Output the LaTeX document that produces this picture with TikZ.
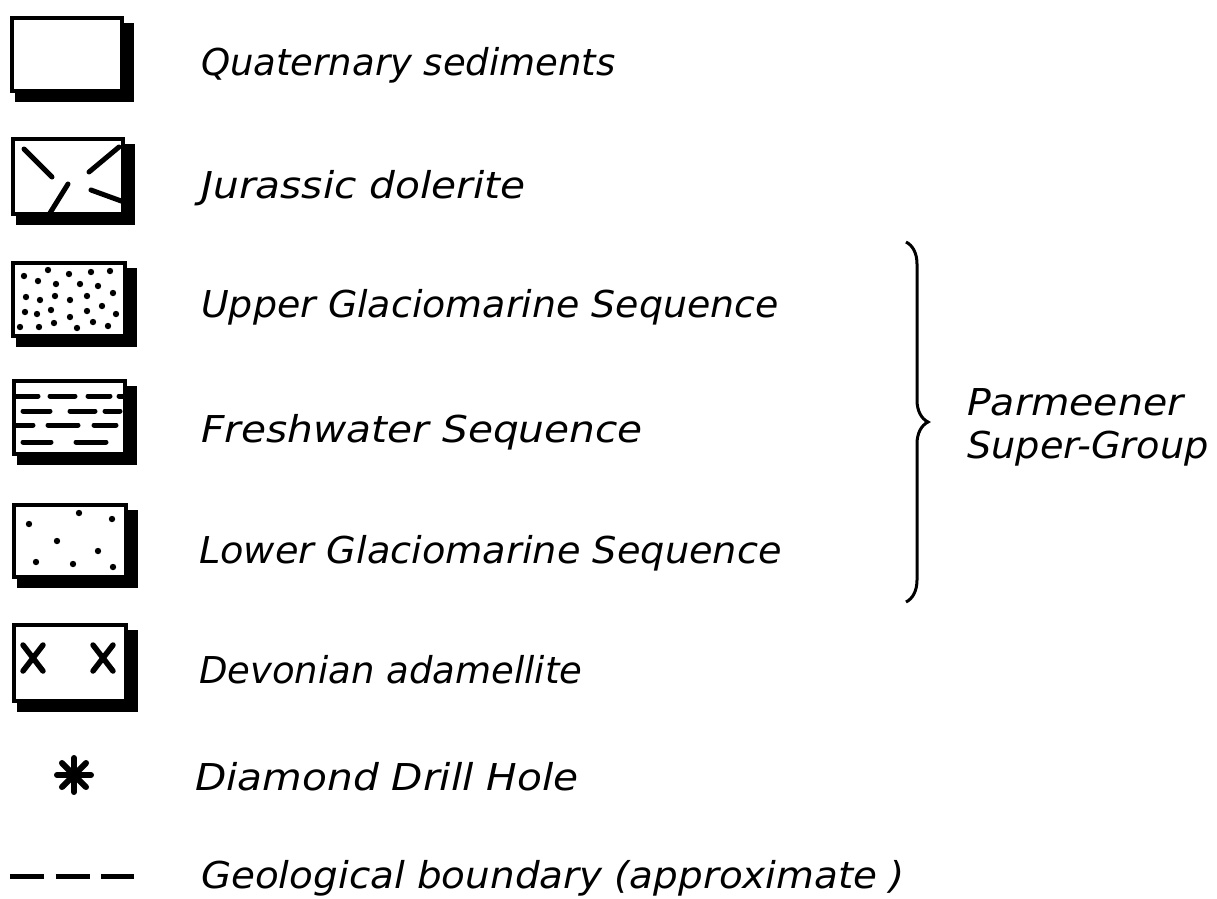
\documentclass[tikz,border=0pt]{standalone}
\usepackage{fontspec}
\usepackage{graphicx}
\newfontfamily\legfont{DejaVu Sans}
\usetikzlibrary{backgrounds,decorations.pathreplacing}

\tikzset{
  legbox/.style={draw, line width=4pt, fill=white, minimum width=110pt, minimum height=73pt, inner sep=0pt},
  legtext/.style={anchor=base west, inner sep=0pt, font=\legfont\fontsize{37}{44}\selectfont\itshape},
  hatch/.style={line width=5pt, line cap=round},
}
% stretch a label to the width of the hand lettering
\newcommand{\wider}[2]{\scalebox{#1}[1]{#2}}

\begin{document}
\begin{tikzpicture}[x=1pt, y=-1pt]
    \useasboundingbox (0,0) rectangle (1217,898);

    % Quaternary sediments
    \node[legbox] (quat) at (66.5,54.5) {};
    \node[legtext] (quattext) at (201,75) {\wider{1.0}{Quaternary sediments}};

    % Jurassic dolerite
    \node[legbox, minimum height=75pt] (jur) at (67.5,176) {};
    \draw[hatch] (24,149) -- (52,177);
    \draw[hatch] (89,172) -- (119,147);
    \draw[hatch] (50,213) -- (68,184);
    \draw[hatch] (91,190) -- (124,202);
    \node[legtext] (jurtext) at (201,198) {\wider{1.1}{Jurassic dolerite}};

    % Upper Glaciomarine Sequence
    \node[legbox, minimum width=112pt] (upper) at (68.5,299) {};
    \foreach \x/\y in {24/276, 48/270, 69/274, 91/272, 110/271,
                       38/281, 56/284, 80/284, 98/286,
                       26/297, 40/300, 55/296, 70/300, 87/296, 113/293,
                       25/312, 37/314, 51/310, 70/317, 87/311, 102/306, 116/314,
                       20/327, 39/327, 54/323, 77/328, 93/322, 108/326} {
        \fill (\x,\y) circle (3.2pt);
    }
    \node[legtext] (uppertext) at (201,317) {\wider{1.025}{Upper Glaciomarine Sequence}};

    % Freshwater Sequence
    \node[legbox, minimum width=111pt] (fresh) at (69,417) {};
    \foreach \a/\b/\y in {15/38/396, 50/75/396, 88/110/396, 119/124/396,
                          23/50/411, 70/95/411, 105/120/411,
                          15/33/425, 48/78/425, 94/116/425,
                          23/51/442, 76/106/442} {
        \draw[hatch] (\a,\y) -- (\b,\y);
    }
    \node[legtext] (freshtext) at (201,442) {\wider{1.1}{Freshwater Sequence}};

    % Lower Glaciomarine Sequence
    \node[legbox, minimum width=112pt, minimum height=72pt] (lower) at (69.5,540.5) {};
    \foreach \x/\y in {29/524, 79/513, 112/519, 57/541, 98/551, 36/562, 73/564, 113/567} {
        \fill (\x,\y) circle (3.2pt);
    }
    \node[legtext] (lowertext) at (199,563) {\wider{1.035}{Lower Glaciomarine Sequence}};

    % Devonian adamellite
    \node[legbox, minimum width=112pt, minimum height=76pt] (devon) at (69.5,662.5) {};
    \foreach \x in {33,103} {
        \draw[hatch, line width=5.5pt] (\x-10,645) -- (\x+10,671);
        \draw[hatch, line width=5.5pt] (\x+10,645) -- (\x-10,671);
    }
    \node[legtext] (devontext) at (199,683) {\wider{1.0}{Devonian adamellite}};

    % shadows behind the boxes
    \begin{scope}[on background layer]
        \foreach \b in {quat,jur,upper,fresh,lower,devon} {
            \fill ([shift={(5,7)}]\b.north west) rectangle ([shift={(10,9)}]\b.south east);
        }
    \end{scope}

    % Diamond Drill Hole
    \coordinate (drill) at (74,775);
    \foreach \a in {0,45,90,135} {
        \draw[line width=6pt, line cap=round] (drill) ++(\a:17) -- ++(\a+180:34);
    }
    \node[legtext] (drilltext) at (195,790) {\wider{1.1}{Diamond Drill Hole}};

    % Geological boundary
    \coordinate (bnd) at (10,876);
    \draw[line width=5pt, dash pattern=on 34pt off 11.5pt] (bnd) -- ++(124,0);
    \node[legtext] (bndtext) at (201,888) {\wider{1.05}{Geological boundary (approximate )}};

    % Parmeener Super-Group
    \coordinate (bracetop) at (906,242);
    \coordinate (bracebot) at (906,602);
    \draw[line width=3pt, decorate, decoration={brace, amplitude=22pt}] (bracetop) -- (bracebot);
    \node[legtext] (parm) at (967,415) {\wider{1.065}{Parmeener}};
    \node[legtext] (super) at (967,458) {\wider{1.035}{Super-Group}};
\end{tikzpicture}
\end{document}
